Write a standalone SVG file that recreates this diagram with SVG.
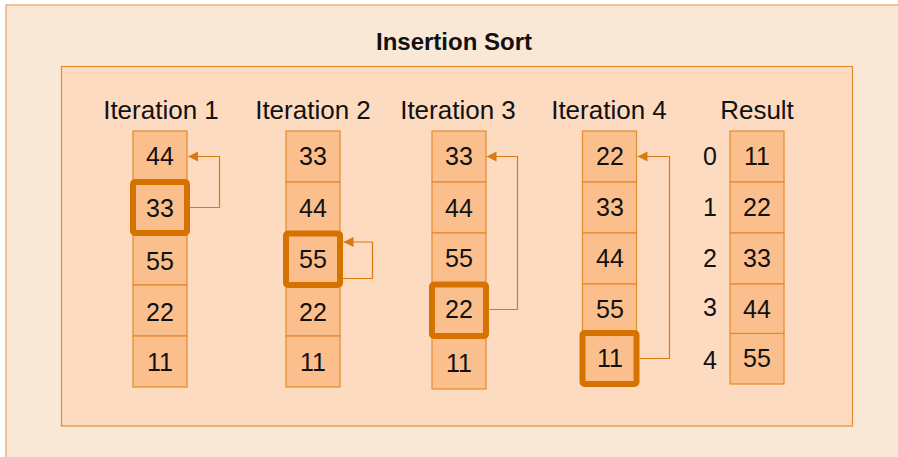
<svg xmlns="http://www.w3.org/2000/svg" width="898" height="457" viewBox="0 0 898 457">
<defs>
<style>
.cell{fill:#FBBF8E;stroke:#E38B2C;stroke-width:1.2}
.hl{fill:none;stroke:#D57200;stroke-width:6}
.num{font-family:"Liberation Sans",Arial,sans-serif;font-size:25px;fill:#111;text-anchor:middle}
.lbl{font-family:"Liberation Sans",Arial,sans-serif;font-size:26px;fill:#111;text-anchor:middle}
.con{fill:none;stroke:#D97A14;stroke-width:1.2}
</style>
<marker id="ah" markerUnits="userSpaceOnUse" markerWidth="10" markerHeight="10" refX="10" refY="5" orient="auto" viewBox="0 0 10 10">
<path d="M0,0 L10,5 L0,10 z" fill="#D97A14"/>
</marker>
</defs>
<rect width="898" height="457" fill="#ffffff"/>
<rect id="outer" x="6" y="5" width="900" height="460" fill="#FAE8D6" stroke="#E7A45C" stroke-width="1.2"/>
<rect id="inner" x="61.5" y="66.5" width="791" height="359.5" fill="#FDDBC0" stroke="#E48D2E" stroke-width="1.2"/>
<text x="454" y="50" font-family="Liberation Sans,Arial,sans-serif" font-size="24" font-weight="bold" fill="#111" text-anchor="middle">Insertion Sort</text>

<g id="iter1">
<text class="lbl" x="161" y="119">Iteration 1</text>
<rect class="cell" x="133" y="131" width="54" height="51"/>
<rect class="cell" x="133" y="182" width="54" height="51"/>
<rect class="cell" x="133" y="233" width="54" height="52"/>
<rect class="cell" x="133" y="285" width="54" height="51"/>
<rect class="cell" x="133" y="336" width="54" height="51"/>
<rect class="hl" x="133" y="182" width="54" height="51" rx="2"/>
<text class="num" x="160" y="165">44</text>
<text class="num" x="160" y="217">33</text>
<text class="num" x="160" y="270">55</text>
<text class="num" x="160" y="321">22</text>
<text class="num" x="160" y="371">11</text>
</g>

<g id="iter2">
<text class="lbl" x="313" y="119">Iteration 2</text>
<rect class="cell" x="286" y="131" width="54" height="51"/>
<rect class="cell" x="286" y="182" width="54" height="51.5"/>
<rect class="cell" x="286" y="233.5" width="54" height="51.5"/>
<rect class="cell" x="286" y="285" width="54" height="51"/>
<rect class="cell" x="286" y="336" width="54" height="51"/>
<rect class="hl" x="286" y="233.5" width="54" height="51.5" rx="2"/>
<text class="num" x="313" y="165">33</text>
<text class="num" x="313" y="217">44</text>
<text class="num" x="313" y="268">55</text>
<text class="num" x="313" y="321">22</text>
<text class="num" x="313" y="371">11</text>
</g>

<g id="iter3">
<text class="lbl" x="458" y="119">Iteration 3</text>
<rect class="cell" x="432" y="131" width="54" height="51"/>
<rect class="cell" x="432" y="182" width="54" height="51"/>
<rect class="cell" x="432" y="233" width="54" height="51.5"/>
<rect class="cell" x="432" y="284.5" width="54" height="51.5"/>
<rect class="cell" x="432" y="336" width="54" height="53"/>
<rect class="hl" x="432" y="284.5" width="54" height="51.5" rx="2"/>
<text class="num" x="459" y="165">33</text>
<text class="num" x="459" y="217">44</text>
<text class="num" x="459" y="267">55</text>
<text class="num" x="459" y="318">22</text>
<text class="num" x="459" y="372">11</text>
</g>

<g id="iter4">
<text class="lbl" x="609" y="119">Iteration 4</text>
<rect class="cell" x="582.5" y="131" width="54" height="51"/>
<rect class="cell" x="582.5" y="182" width="54" height="51"/>
<rect class="cell" x="582.5" y="233" width="54" height="51"/>
<rect class="cell" x="582.5" y="284" width="54" height="49"/>
<rect class="cell" x="582.5" y="333" width="54" height="51"/>
<rect class="hl" x="582.5" y="333" width="54" height="51" rx="2"/>
<text class="num" x="610" y="165">22</text>
<text class="num" x="610" y="216">33</text>
<text class="num" x="610" y="267">44</text>
<text class="num" x="610" y="318">55</text>
<text class="num" x="610" y="367">11</text>
</g>

<g id="result">
<text class="lbl" x="757" y="119">Result</text>
<rect class="cell" x="730" y="131" width="54" height="51"/>
<rect class="cell" x="730" y="182" width="54" height="51"/>
<rect class="cell" x="730" y="233" width="54" height="51"/>
<rect class="cell" x="730" y="284" width="54" height="49.5"/>
<rect class="cell" x="730" y="333.5" width="54" height="50.5"/>
<text class="num" x="757" y="165">11</text>
<text class="num" x="757" y="216">22</text>
<text class="num" x="757" y="267">33</text>
<text class="num" x="757" y="318">44</text>
<text class="num" x="757" y="367">55</text>
<text class="num" x="710" y="165">0</text>
<text class="num" x="710" y="216">1</text>
<text class="num" x="710" y="267">2</text>
<text class="num" x="710" y="316">3</text>
<text class="num" x="710" y="369">4</text>
</g>

<g id="connectors">
<path class="con" d="M190,207.5 H219.5 V156.5 H188" marker-end="url(#ah)"/>
<path class="con" d="M343,278.5 H372.5 V242 H343.5" marker-end="url(#ah)"/>
<path class="con" d="M489.5,309.5 H517.5 V156.5 H486.5" marker-end="url(#ah)"/>
<path class="con" d="M640,358.5 H669.5 V156.5 H637.5" marker-end="url(#ah)"/>
</g>
</svg>
